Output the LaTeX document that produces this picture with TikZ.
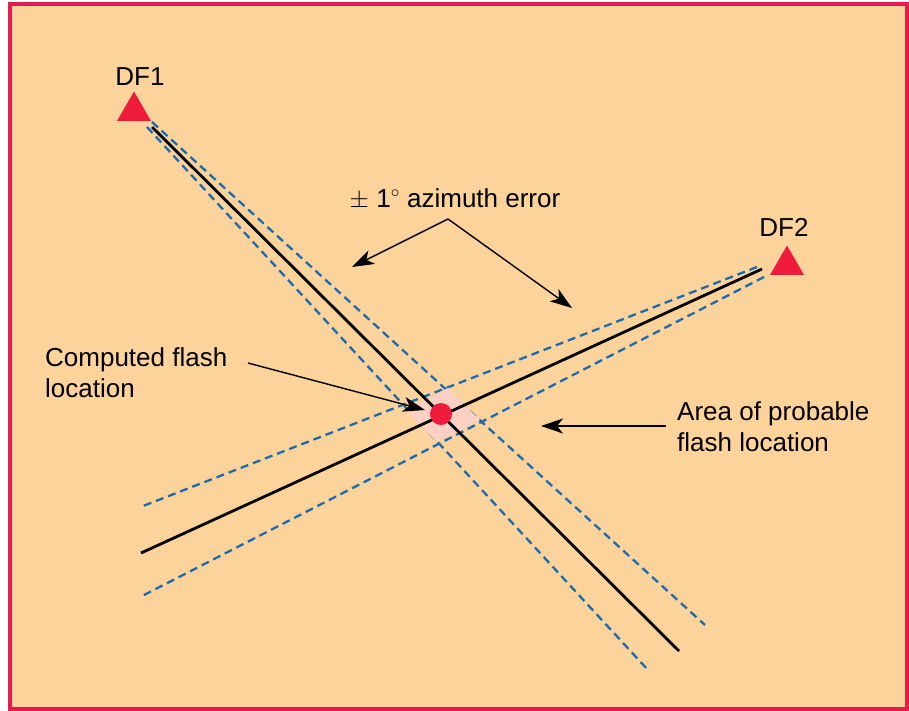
\documentclass[tikz,border=0pt]{standalone}
\usepackage{fontspec}
\setmainfont{Liberation Sans}
\usetikzlibrary{arrows.meta,shapes.geometric,positioning}
\definecolor{paper}{HTML}{FBD39B}
\definecolor{frame}{HTML}{E91A4B}
\definecolor{station}{HTML}{EE1C3A}
\definecolor{bearing}{HTML}{1D6AAE}
\definecolor{area}{HTML}{FCD0C2}

\begin{document}
\begin{tikzpicture}[x=1pt,y=-1pt,
  every node/.style={font=\fontsize{26}{31}\selectfont,inner sep=0pt},
  station/.style={regular polygon,regular polygon sides=3,fill=station,minimum size=39pt},
  caption/.style={align=left,text=black},
  fix/.style={line width=2.8pt,black},
  spread/.style={line width=2.3pt,bearing,dash pattern=on 8pt off 5pt},
  pointer/.style={line width=1.4pt,-{Stealth[length=22pt,width=15pt,inset=6pt]}}]
%\tikzstyle{every node}=[draw]

\useasboundingbox (0,0) rectangle (909,710);
\draw[frame,line width=3.2pt,fill=paper] (10,4) rectangle (907,709);

% stations
\node (DF1) [station] at (134,111) {};
\node (DF1name) [anchor=base] at (140,85) {DF1};
\node (DF2) [station] at (787,265) {};
\node (DF2name) [anchor=base] at (784,236) {DF2};

% bearing from DF1
\coordinate (a0) at (152,127);
\coordinate (a1) at (679,651);
\coordinate (au0) at (152,122);
\coordinate (au1) at (705,625);
\coordinate (al0) at (147,127);
\coordinate (al1) at (648,670);
\draw[spread] (au0) -- (au1);
\draw[spread] (al0) -- (al1);

% bearing from DF2
\coordinate (b0) at (762,269);
\coordinate (b1) at (141,553);
\coordinate (bu0) at (757,267);
\coordinate (bu1) at (143,506);
\coordinate (bl0) at (764,277);
\coordinate (bl1) at (142,596);
\draw[spread] (bu0) -- (bu1);
\draw[spread] (bl0) -- (bl1);

% area of probable location
\coordinate (q1) at (448,388);
\coordinate (q2) at (480,420);
\coordinate (q3) at (437,442);
\coordinate (q4) at (405,410);
\fill[area] (q1) -- (q2) -- (q3) -- (q4) -- cycle;

\draw[fix] (a0) -- (a1);
\draw[fix] (b0) -- (b1);
\node (flash) [circle,fill=station,minimum size=22pt] at (441,414) {};

% labels and pointers
\node (azimuth) [anchor=base] at (455,207) {$\pm$ 1$^\circ$ azimuth error};
\coordinate (fork) at (448,219);
\coordinate (tipA) at (352,267);
\coordinate (tipB) at (572,308);
\draw[pointer] (fork) -- (tipA);
\draw[pointer] (fork) -- (tipB);

\node (computed) [caption,anchor=north west] at (45,347) {Computed flash\\location};
\coordinate (cstart) at (248,363);
\coordinate (ctip) at (425,410);
\draw[pointer] (cstart) -- (ctip);

\node (probable) [caption,anchor=north west] at (677,401) {Area of probable\\flash location};
\coordinate (pstart) at (666,426);
\coordinate (ptip) at (541,426);
\draw[pointer] (pstart) -- (ptip);
\end{tikzpicture}
\end{document}
